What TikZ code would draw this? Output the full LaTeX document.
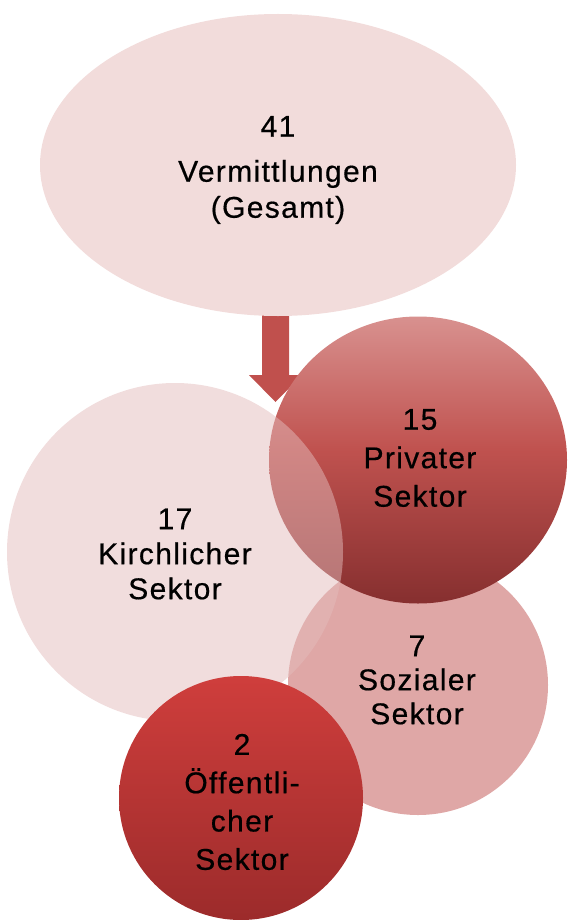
\documentclass[tikz,border=0pt]{standalone}
\usepackage{fontspec}
\setmainfont{Liberation Sans}[LetterSpace=4.5, FakeBold=0.5]
\usetikzlibrary{shapes.geometric}

\definecolor{palepink}{HTML}{F2DCDB}
\definecolor{churchpink}{HTML}{E3BBBB}
\definecolor{socialpink}{HTML}{DFA7A6}
\definecolor{arrowred}{HTML}{C0504D}
\definecolor{privtop}{HTML}{D8918F}
\definecolor{privmid}{HTML}{C0524F}
\definecolor{privbot}{HTML}{862F2F}
\definecolor{pubtop}{HTML}{CF3E3C}
\definecolor{pubbot}{HTML}{9C2B2B}

% gradient of the private-sector bubble, bottom to top
\pgfdeclareverticalshading{privshade}{100bp}{%
  color(0bp)=(privbot); color(25bp)=(privbot); color(52bp)=(privmid);
  color(75bp)=(privtop); color(100bp)=(privtop)}

\tikzset{
  bubble/.style={ellipse, draw=none, inner sep=0pt},
  label/.style={inner sep=0pt, align=center,
    font=\fontsize{30}{#1}\selectfont},
  label/.default=38,
}

\begin{document}
\begin{tikzpicture}[x=1pt, y=-1pt]
  \useasboundingbox (0,0) rectangle (568,920);

  % arrow from the total down into the sectors
  \coordinate (arrowtop) at (275.5,314);
  \fill[arrowred] (arrowtop) ++(-13.5,0) -- ++(27,0) -- ++(0,61) -- ++(13,0)
    -- ++(-26.5,27) -- ++(-26.5,-27) -- ++(13,0) -- cycle;

  % total
  \node[bubble, fill=palepink, minimum width=476pt, minimum height=302pt]
    (total) at (278,165) {};
  \node[label=36] (total-text) at (278,170) {41\\[9pt]Vermittlungen\\(Gesamt)};

  % sectors
  \node[bubble, fill=socialpink, minimum width=260pt, minimum height=260pt]
    (sozial) at (418,685) {};
  \node[bubble, shading=privshade, minimum width=298pt, minimum height=287pt]
    (privat) at (418,460) {};
  \node[bubble, fill=churchpink, fill opacity=0.5,
    minimum width=336pt, minimum height=338pt]
    (kirche) at (175,552) {};
  \node[bubble, top color=pubtop, bottom color=pubbot,
    minimum width=244pt, minimum height=244pt]
    (oeffentlich) at (241,798) {};

  % sector labels
  \node[label=34] (sozial-text) at (417,680) {7\\Sozialer\\Sektor};
  \node[label=38.5] (privat-text) at (420,458) {15\\Privater\\Sektor};
  \node[label=35] (kirche-text) at (175,554) {17\\Kirchlicher\\Sektor};
  \node[label=38.3] (oeffentlich-text) at (242,802)
    {2\\Öffentli-\\cher\\Sektor};
\end{tikzpicture}
\end{document}
